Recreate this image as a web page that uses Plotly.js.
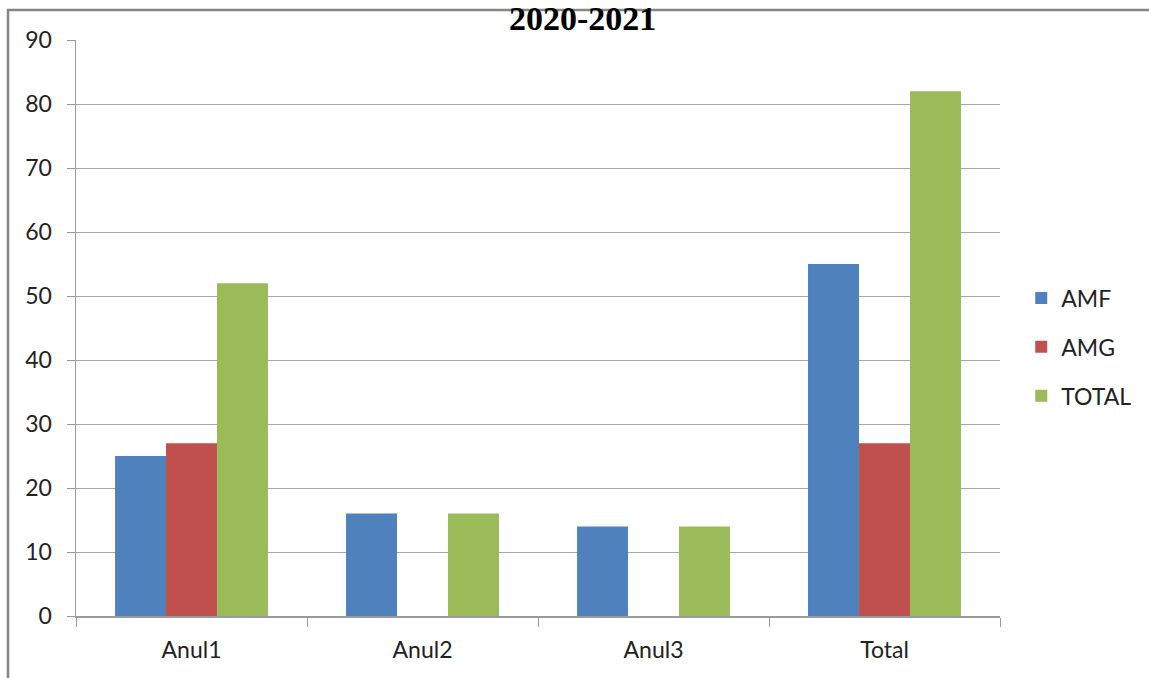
<!DOCTYPE html>
<html>
<head>
<meta charset="utf-8">
<script src="https://cdn.plot.ly/plotly-3.0.1.min.js"></script>
<style>html,body{margin:0;padding:0;background:#fff;}#chart{width:1149px;height:678px;}</style>
</head>
<body>
<div id="chart"></div>
<script>
var categories = ["Anul1", "Anul2", "Anul3", "Total"];
var amf = [25, 16, 14, 55];
var amg = [27, 0, 0, 27];
var total = [52, 16, 14, 82];
var seriesNames = ["AMF", "AMG", "TOTAL"];
var titleText = "2020-2021";

var colors = ["#4F81BD", "#C0504D", "#9BBB59"];
var vals = [amf, amg, total];
var traces = vals.map(function (v, i) {
  return {
    type: "bar", x: categories, y: v, name: seriesNames[i],
    legendgroup: "g" + i,
    marker: {color: colors[i], line: {width: 0}},
    hoverinfo: "x+y+name"
  };
});

var layout = {
  width: 1149, height: 678,
  margin: {l: 76, r: 149, t: 40, b: 62, autoexpand: false},
  paper_bgcolor: "#ffffff", plot_bgcolor: "#ffffff",
  barmode: "group", bargap: 0.338, bargroupgap: 0,
  font: {family: "Lato, 'Liberation Sans', sans-serif", size: 23, color: "#222"},
  title: {text: "<b>" + titleText + "</b>", x: 0.507, xref: "container", xanchor: "center",
          y: 0.991, yref: "container", yanchor: "top", pad: {t: 0, b: 0},
          font: {family: "'Liberation Serif', serif", size: 34, color: "#000"}},
  xaxis: {type: "category", tickson: "boundaries", ticks: "outside", ticklen: 9, tickcolor: "#9a9a9a",
          showline: true, linecolor: "#9a9a9a", linewidth: 1.5, showgrid: false,
          tickfont: {size: 23, color: "#222"}, ticklabelstandoff: 13, fixedrange: true},
  yaxis: {range: [0, 90], dtick: 10, ticks: "outside", ticklen: 8, tickcolor: "#9a9a9a",
          showline: true, linecolor: "#9a9a9a", linewidth: 1.5, showgrid: true, gridcolor: "#a6a6a6", gridwidth: 1,
          zeroline: false, tickfont: {size: 23, color: "#222"}, ticklabelstandoff: 10, fixedrange: true},
  legend: {x: 1.023, xanchor: "left", y: 0.467, yanchor: "middle", tracegroupgap: 16,
           font: {size: 23, color: "#222"}, itemwidth: 30},
  shapes: [{type: "rect", xref: "paper", yref: "paper",
            x0: -68 / 924, x1: 1.3, y0: -0.2, y1: 1 + 30 / 576,
            line: {color: "#868686", width: 2.5}, fillcolor: "rgba(0,0,0,0)", layer: "below"}],
  showlegend: true
};

Plotly.newPlot("chart", traces, layout, {displayModeBar: false, staticPlot: true});
</script>
</body>
</html>
